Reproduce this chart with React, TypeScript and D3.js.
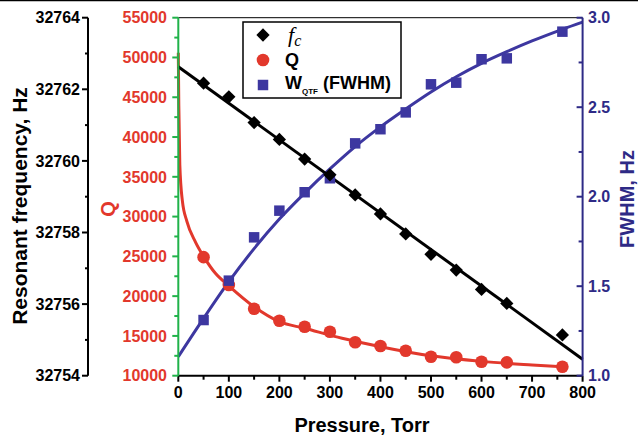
import React from "react";
import * as d3 from "d3";

// pressure (Torr) for each measured point
const pressure = [50, 100, 150, 200, 250, 300, 350, 400, 450, 500, 550, 600, 650, 760];
// resonant frequency f_c, Hz
const freq = [
  32762.17, 32761.79, 32761.07, 32760.6, 32760.05, 32759.61, 32759.05,
  32758.52, 32757.96, 32757.39, 32756.95, 32756.41, 32756.02, 32755.14
];
// quality factor Q
const qValues = [
  24900, 21400, 18420, 16910, 16160, 15530, 14200, 13730, 13140, 12390, 12310, 11760, 11680, 11130
];
// FWHM, Hz
const wValues = [
  1.311, 1.531, 1.773, 1.922, 2.025, 2.103, 2.298, 2.377, 2.471, 2.628, 2.637, 2.768, 2.773, 2.922
];

// fitted curves
const fitFreqP = [0, 800];
const fitFreqV = [32762.63, 32754.46];
const fitQP = [0, 1, 3, 8, 17, 34, 50, 73, 100, 150, 200, 250, 324, 400, 500, 600, 700, 760];
const fitQV = [
  50600, 44000, 36500, 32000, 29400, 26800, 25000, 22900, 21300, 18670, 16790, 15960, 14700,
  13650, 12500, 11800, 11350, 11120
];
const fitWP = [0, 50, 100, 150, 200, 250, 300, 350, 400, 450, 500, 550, 600, 650, 700, 760, 800];
const fitWV = [
  1.106, 1.32, 1.525, 1.71, 1.875, 2.02, 2.155, 2.28, 2.39, 2.49, 2.585, 2.67, 2.745, 2.81,
  2.87, 2.935, 2.975
];

const xTicks = [0, 100, 200, 300, 400, 500, 600, 700, 800];
const fTicks = [32754, 32756, 32758, 32760, 32762, 32764];
const qTicks = [10000, 15000, 20000, 25000, 30000, 35000, 40000, 45000, 50000, 55000];
const wTicks = [1.0, 1.5, 2.0, 2.5, 3.0];

const RED = "#e2382c";
const BLUE = "#3d37a0";
const NAVY = "#2e2a86";
const GREEN = "#20b24a";
const FONT = "'Liberation Sans', Arial, sans-serif";

const top = 17.7;
const bottom = 375.7;
const left = 178.3;
const right = 582.6;

export default function App() {
  const x = d3.scaleLinear().domain([0, 800]).range([left, right]);
  const yF = d3.scaleLinear().domain([32754, 32764]).range([bottom, top]);
  const yQ = d3.scaleLinear().domain([10000, 55000]).range([bottom, top]);
  const yW = d3.scaleLinear().domain([1, 3]).range([bottom, top]);

  const fLine = d3
    .line<number>()
    .x((d, i) => x(fitFreqP[i]))
    .y((d) => yF(d));
  const qLine = d3
    .line<number>()
    .x((d, i) => x(fitQP[i]))
    .y((d) => yQ(d))
    .curve(d3.curveMonotoneX);
  const wLine = d3
    .line<number>()
    .x((d, i) => x(fitWP[i]))
    .y((d) => yW(d))
    .curve(d3.curveMonotoneX);

  const diamond = d3.symbol().type(d3.symbolSquare).size(88)()!;
  const square = d3.symbol().type(d3.symbolSquare).size(110)()!;

  const minorX = d3.range(50, 800, 100);
  const minorF = d3.range(32755, 32764, 2);
  const minorQ = d3.range(12500, 55000, 5000);
  const minorW = [1.25, 1.75, 2.25, 2.75];

  return (
    <svg
      width={638}
      height={438}
      style={{ position: "absolute", left: 0, top: 0, background: "#fff" }}
      fontFamily={FONT}
      fontWeight="bold"
    >
      <line x1={0} x2={638} y1={0.5} y2={0.5} stroke="#000" strokeWidth={1.5} />

      {/* frame */}
      <line x1={left} x2={right} y1={top} y2={top} stroke="#000" strokeWidth={1} />

      {/* fitted curves */}
      <path d={qLine(fitQV)!} fill="none" stroke={RED} strokeWidth={3} />
      <path d={wLine(fitWV)!} fill="none" stroke={BLUE} strokeWidth={3} />
      <path d={fLine(fitFreqV)!} fill="none" stroke="#000" strokeWidth={3} />

      {/* points */}
      {pressure.map((p, i) => (
        <g key={"p" + i}>
          <circle cx={x(p)} cy={yQ(qValues[i])} r={6.3} fill={RED} />
          <path d={square} transform={`translate(${x(p)},${yW(wValues[i])})`} fill={BLUE} />
          <path
            d={diamond}
            transform={`translate(${x(p)},${yF(freq[i])}) rotate(45)`}
            fill="#000"
          />
        </g>
      ))}

      {/* bottom axis */}
      <line x1={left} x2={right} y1={bottom} y2={bottom} stroke="#000" strokeWidth={2} />
      {xTicks.map((t) => (
        <g key={"x" + t}>
          <line x1={x(t)} x2={x(t)} y1={bottom} y2={bottom + 6} stroke="#000" strokeWidth={2} />
          <text x={x(t)} y={398} textAnchor="middle" fontSize={16}>
            {t}
          </text>
        </g>
      ))}
      {minorX.map((t) => (
        <line key={"mx" + t} x1={x(t)} x2={x(t)} y1={bottom} y2={bottom + 4} stroke="#000" strokeWidth={2} />
      ))}
      <text x={362} y={432} textAnchor="middle" fontSize={20}>
        Pressure, Torr
      </text>

      {/* left frequency axis */}
      <line x1={88} x2={88} y1={top} y2={bottom} stroke="#000" strokeWidth={2} />
      {fTicks.map((t) => (
        <g key={"f" + t}>
          <line x1={82} x2={88} y1={yF(t)} y2={yF(t)} stroke="#000" strokeWidth={2} />
          <text x={80} y={yF(t)} dy="0.36em" textAnchor="end" fontSize={16}>
            {t}
          </text>
        </g>
      ))}
      {minorF.map((t) => (
        <line key={"mf" + t} x1={85} x2={88} y1={yF(t)} y2={yF(t)} stroke="#000" strokeWidth={2} />
      ))}
      <text transform="translate(27,206) rotate(-90)" textAnchor="middle" fontSize={21}>
        Resonant frequency, Hz
      </text>

      {/* Q axis */}
      <line x1={left} x2={left} y1={top} y2={bottom} stroke={GREEN} strokeWidth={2} />
      {qTicks.map((t) => (
        <g key={"q" + t}>
          <line x1={left - 6} x2={left} y1={yQ(t)} y2={yQ(t)} stroke={GREEN} strokeWidth={2} />
          <text x={167} y={yQ(t)} dy="0.36em" textAnchor="end" fontSize={16} fill={RED}>
            {t}
          </text>
        </g>
      ))}
      {minorQ.map((t) => (
        <line key={"mq" + t} x1={left - 4} x2={left} y1={yQ(t)} y2={yQ(t)} stroke={GREEN} strokeWidth={2} />
      ))}
      <text transform="translate(115,209) rotate(-90)" textAnchor="middle" fontSize={20} fill={RED}>
        Q
      </text>

      {/* FWHM axis */}
      <line x1={right} x2={right} y1={top} y2={bottom} stroke={NAVY} strokeWidth={2} />
      {wTicks.map((t) => (
        <g key={"w" + t}>
          <line x1={right - 6} x2={right} y1={yW(t)} y2={yW(t)} stroke={NAVY} strokeWidth={2} />
          <text x={588} y={yW(t)} dy="0.36em" fontSize={16} fill={NAVY}>
            {t.toFixed(1)}
          </text>
        </g>
      ))}
      {minorW.map((t) => (
        <line key={"mw" + t} x1={right - 4} x2={right} y1={yW(t)} y2={yW(t)} stroke={NAVY} strokeWidth={2} />
      ))}
      <text transform="translate(634,199) rotate(-90)" textAnchor="middle" fontSize={20} fill={NAVY}>
        FWHM, Hz
      </text>

      {/* legend */}
      <rect x={243} y={22} width={158} height={76} fill="#fff" stroke="#000" strokeWidth={1.5} />
      <path d={diamond} transform="translate(263,35) rotate(45)" fill="#000" />
      <circle cx={263} cy={60} r={6.3} fill={RED} />
      <path d={square} transform="translate(263,85)" fill={BLUE} />
      <text x={288} y={42} fontFamily="'Liberation Serif', 'Times New Roman', serif" fontStyle="italic" fontWeight="normal" fontSize={22}>
        f
        <tspan dy={4} fontSize={16}>
          c
        </tspan>
      </text>
      <text x={285} y={66} fontSize={18}>
        Q
      </text>
      <text x={285} y={89} fontSize={18}>
        W
        <tspan dy={5} fontSize={8}>
          QTF
        </tspan>
        <tspan dy={-5}> (FWHM)</tspan>
      </text>
    </svg>
  );
}
